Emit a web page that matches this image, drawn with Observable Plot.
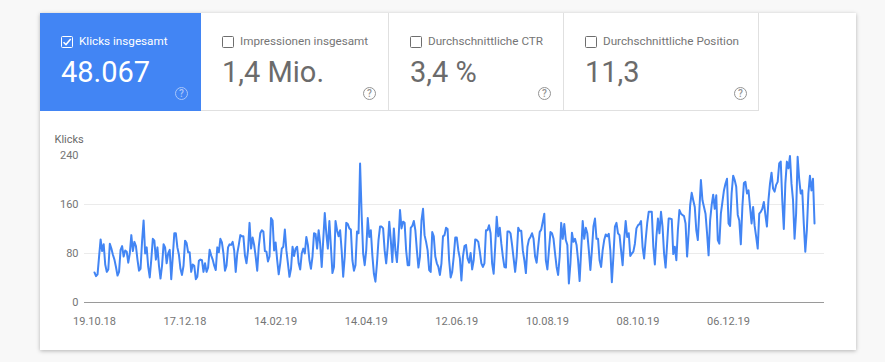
<!DOCTYPE html>
<html><head><meta charset="utf-8">
<script src="https://cdn.jsdelivr.net/npm/d3@7"></script>
<script src="https://cdn.jsdelivr.net/npm/@observablehq/plot@0.6"></script>
<style>
html,body{margin:0;padding:0;width:885px;height:362px;overflow:hidden;background:#f8f8f8;font-family:Roboto,sans-serif}
#card{position:absolute;left:40px;top:13px;width:816px;height:337px;background:#fff;box-shadow:0 1px 4px rgba(0,0,0,.28)}
.tab{position:absolute;top:13px;height:97px;box-sizing:content-box;border-bottom:1px solid #e0e0e0;border-right:1px solid #e0e0e0;color:#6b6b6b}
.tab.on{background:#4285f4;color:#fff;border:none;height:98px}
.box{position:absolute;left:21px;top:23px;width:10px;height:10px;border:1.5px solid #6e6e6e;border-radius:1.5px}
.on .box{border-color:#fff}
.lab{position:absolute;left:39px;top:21px;font-size:11.7px;line-height:15px;white-space:nowrap;color:#757575}
.on .lab{color:#fff}
.val{position:absolute;left:21px;top:41px;font-size:29px;line-height:36px;white-space:nowrap}
.q{position:absolute;width:11px;height:11px;top:74px;border:1.5px solid #949494;border-radius:50%;font-size:10px;line-height:11px;font-weight:500;text-align:center;color:#949494;box-sizing:content-box}
.on .q{border-color:#a9c6fa;color:#a9c6fa}
#chart{position:absolute;left:0;top:0}
#chart svg{display:block}
</style></head><body>
<div id="card"></div>
<div id="tabs"></div>
<div id="chart"></div>
<script>
const metricNames = ["Klicks insgesamt","Impressionen insgesamt","Durchschnittliche CTR","Durchschnittliche Position"];
const metricValues = ["48.067","1,4 Mio.","3,4 %","11,3"];
const startDate = "2018-10-19";
const tickDates = ["2018-10-19","2018-12-17","2019-02-14","2019-04-14","2019-06-12","2019-08-10","2019-10-08","2019-12-06"];
const yTicks = [0,80,160,240];
const clicks = [
49,43,46,75,103,84,95,62,50,54,96,88,78,70,58,44,50,86,92,75,85,83,65,80,110,84,99,92,70,52,
55,100,134,80,90,58,41,70,104,101,70,90,60,39,60,95,90,64,80,86,38,75,113,113,90,78,55,45,60,101,
97,82,82,50,62,60,38,42,68,70,69,50,64,50,57,86,77,70,60,53,90,82,104,98,80,52,60,90,95,94,
99,85,50,80,94,110,108,108,77,64,85,130,88,106,94,75,52,91,113,118,116,84,83,67,75,138,134,85,98,69,
46,64,88,91,119,85,64,42,55,91,76,88,91,64,54,80,88,80,107,94,69,55,75,113,112,88,118,96,58,102,
146,113,88,133,91,48,58,133,118,108,118,85,42,75,130,128,121,119,69,52,61,116,113,227,145,80,61,85,138,107,
118,77,47,34,64,102,124,124,121,85,64,91,132,102,66,121,85,66,102,151,121,132,130,85,61,61,122,125,133,118,
85,57,75,134,153,110,99,85,53,50,115,108,75,64,58,45,64,108,110,122,120,69,41,50,75,106,106,85,72,36,
75,92,94,72,65,81,54,69,103,102,99,83,64,58,64,118,118,126,113,64,47,91,140,108,122,96,75,58,57,116,
116,113,94,72,50,75,122,117,117,85,69,48,91,103,107,113,104,75,65,91,115,119,132,145,69,54,85,115,113,104,
80,58,45,75,130,104,128,102,94,31,64,114,99,104,94,69,35,85,133,104,122,113,85,53,85,124,137,104,104,69,
58,85,102,111,108,112,85,33,75,124,130,113,110,85,61,102,133,107,113,76,80,83,96,121,126,128,133,91,72,102,
129,148,148,148,91,62,107,137,113,148,124,80,57,96,137,137,136,79,91,69,118,151,145,143,141,129,75,113,159,179,
167,156,118,102,151,200,167,156,145,113,77,134,159,176,153,175,102,96,145,164,183,194,202,129,125,178,207,200,189,143,
134,95,156,195,197,178,183,156,129,156,125,107,88,145,148,153,164,143,124,167,194,212,186,181,192,197,227,230,167,120,
194,230,219,239,194,167,104,145,238,202,178,183,129,83,118,178,207,183,202,129
];
const DAY = 864e5;
const start = new Date(startDate + "T00:00:00Z");
const rows = clicks.map((v,i)=>({date:new Date(+start + i*DAY), v}));
const pad = 6.5; // days of axis overhang either side of the series
const xDomain = [new Date(+start - pad*DAY), new Date(+rows[rows.length-1].date + pad*DAY)];

const tabLefts = [40,201,389,564], tabWidths=[161,187,174,194], qLefts=[135,162,149,170];
document.getElementById("tabs").innerHTML = metricNames.map((n,i)=>`
<div class="tab${i==0?" on":""}" style="left:${tabLefts[i]}px;width:${tabWidths[i]}px">
<div class="box">${i==0?'<svg width="10" height="10" viewBox="0 0 10 10" style="display:block"><path d="M1.5 5.2 4 7.6 8.7 2" fill="none" stroke="#fff" stroke-width="1.5"/></svg>':''}</div>
<div class="lab">${n}</div><div class="val">${metricValues[i]}</div>
<div class="q" style="left:${qLefts[i]}px">?</div></div>`).join("");

const plot = Plot.plot({
  width:885,height:362,marginLeft:84,marginRight:61,marginTop:155,marginBottom:60,
  style:{fontFamily:"Roboto,sans-serif",fontSize:"11px",background:"transparent",overflow:"visible"},
  x:{type:"utc",domain:xDomain},
  y:{domain:[0,240]},
  marks:[
    Plot.ruleY([80,160],{stroke:"#ebebeb",strokeWidth:1}),
    Plot.ruleY([0],{stroke:"#9a9a9a",strokeWidth:1}),
    Plot.axisY({ticks:yTicks,tickSize:0,tickPadding:6,label:null,color:"#757575",fontSize:11}),
    Plot.axisX({ticks:tickDates.map(d=>new Date(d+"T00:00:00Z")),tickFormat:d3.utcFormat("%d.%m.%y"),tickSize:0,tickPadding:15,label:null,color:"#757575",fontSize:11}),
    Plot.line(rows,{x:"date",y:"v",stroke:"#4285f4",strokeWidth:2,strokeLinejoin:"round"}),
    Plot.text(["Klicks"],{frameAnchor:"top-left",dx:-30,dy:-20,fill:"#6a6a6a",fontSize:11,textAnchor:"start"})
  ]
});
document.getElementById("chart").appendChild(plot);
</script>
</body></html>
